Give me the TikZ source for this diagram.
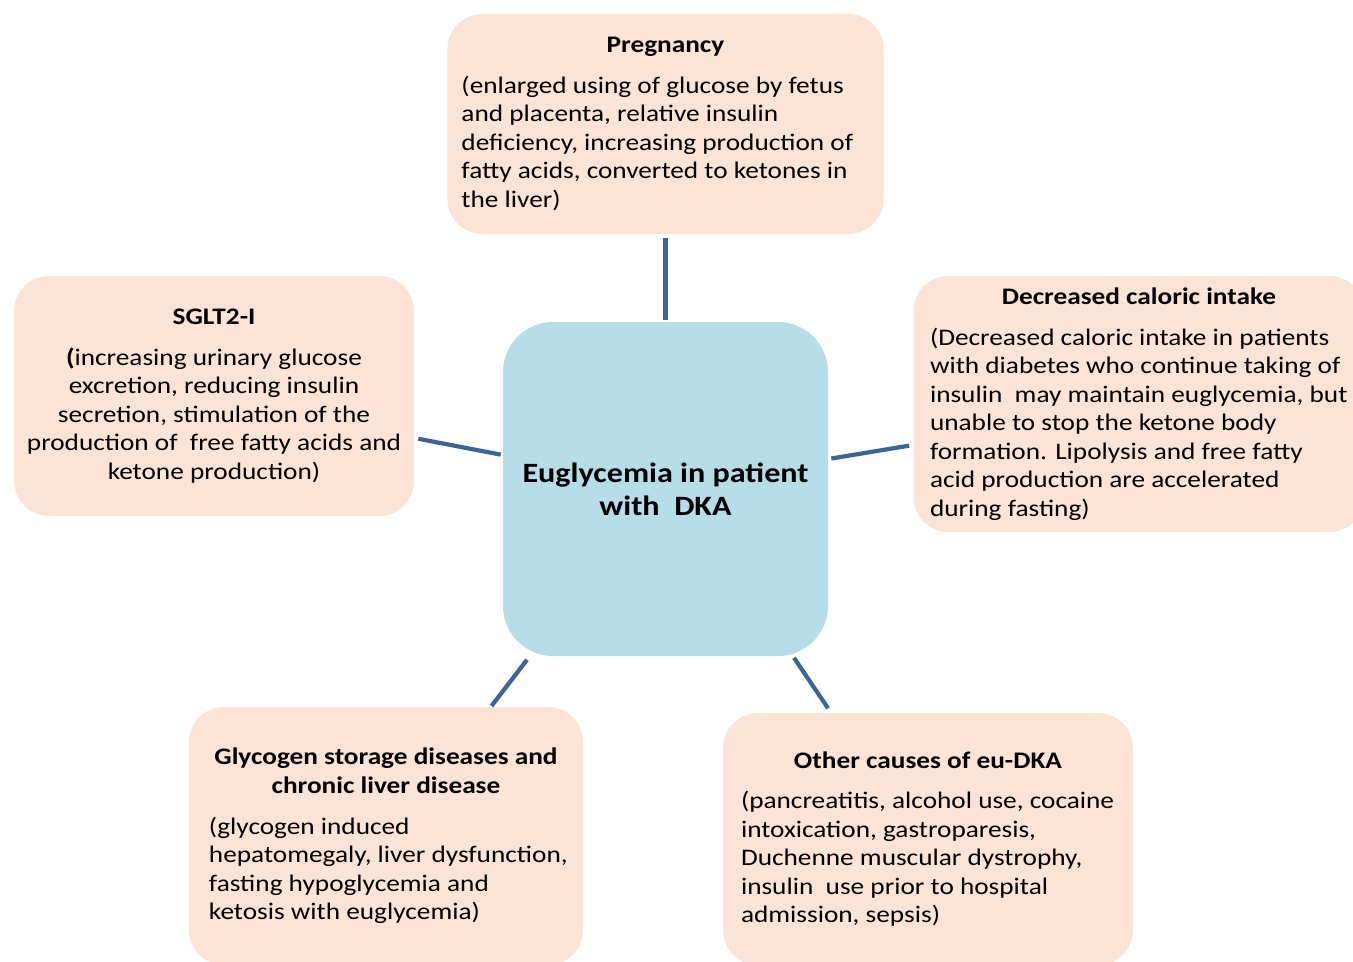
\documentclass[tikz,border=0pt]{standalone}
\usepackage{fontspec}
\setmainfont{Carlito}[FakeStretch=1.15]
\usepackage{xcolor}
\usepackage{tikz}
\usetikzlibrary{shapes.geometric, arrows}

\definecolor{peach}{HTML}{FBE4D5}
\definecolor{paleblue}{HTML}{B7DDE8}
\definecolor{linkblue}{RGB}{60,100,150}

\begin{document}
\begin{tikzpicture}[node distance=2cm]

\tikzstyle{hub} = [rectangle, rounded corners=1cm, minimum width=6.5cm, minimum height=6.68cm, inner sep=0pt, align=center, fill=paleblue, font=\fontsize{15.9}{18.7}\selectfont\bfseries]
\tikzstyle{cause} = [rectangle, rounded corners=0.7cm, inner sep=0pt, align=center, fill=peach, font=\fontsize{13.5}{16.2}\selectfont]
\tikzstyle{link} = [line width=2.4pt, draw=linkblue]

\path[use as bounding box, clip] (-13.31,-9.44) rectangle (13.75,9.78);

% Nodes
\node (hub) [hub] at (0,0) {Euglycemia in patient\\with~ DKA};
\node (preg) [cause, minimum width=8.72cm, minimum height=4.4cm] at (0,7.3) {\textbf{Pregnancy}\\[7pt]\parbox[t]{8.16cm}{\raggedright (enlarged using of glucose by fetus\\and placenta, relative insulin\\deficiency, increasing production of\\fatty acids, converted to ketones in\\the liver)}};
\node (sglt) [cause, minimum width=8cm, minimum height=4.8cm] at (-9.03,1.86) {\textbf{SGLT2-I}\\[7pt]\textbf{(}increasing urinary glucose\\excretion, reducing insulin\\secretion, stimulation of the\\production of~ free fatty acids and\\ketone production)};
\node (decr) [cause, minimum width=9.02cm, minimum height=5.12cm] at (9.47,1.7) {\textbf{Decreased caloric intake}\\[7pt]\parbox[t]{8.36cm}{\raggedright (Decreased caloric intake in patients\\with diabetes who continue taking of\\insulin~ may maintain euglycemia, but\\unable to stop the ketone body\\formation. Lipolysis and free fatty\\acid production are accelerated\\during fasting)}};
\node (glyco) [cause, minimum width=7.88cm, minimum height=5.16cm] at (-5.59,-6.94) {\textbf{Glycogen storage diseases and}\\\textbf{chronic liver disease}\\[7pt]\parbox[t]{7.08cm}{\raggedright\hfuzz=30pt (glycogen induced\\\mbox{hepatomegaly, liver dysfunction,}\\fasting hypoglycemia and\\ketosis with euglycemia)}};
\node (other) [cause, minimum width=8.2cm, minimum height=5.04cm] at (5.25,-7.0) {\textbf{Other causes of eu-DKA}\\[7pt]\parbox[t]{7.48cm}{\raggedright (pancreatitis, alcohol use, cocaine\\intoxication, gastroparesis,\\Duchenne muscular dystrophy,\\insulin~ use prior to hospital\\admission, sepsis)}};

% Links
\draw [link, shorten <=2.3pt, shorten >=1.1pt] (preg.south) -- (hub.north);
\draw [link, shorten <=2.3pt, shorten >=1.1pt] ([yshift=-0.84cm]sglt.east) -- ([yshift=0.68cm]hub.west);
\draw [link, shorten <=1.7pt, shorten >=2.3pt] ([yshift=0.6cm]hub.east) -- ([yshift=-0.82cm]decr.west);
\draw [link, shorten <=2.5pt, shorten >=0.5pt] ([xshift=0.54cm]hub.south west) -- ([xshift=2.1cm]glyco.north);
\draw [link, shorten <=1pt, shorten >=3pt] ([xshift=2.55cm]hub.south) -- ([xshift=-1.94cm]other.north);

\end{tikzpicture}
\end{document}
